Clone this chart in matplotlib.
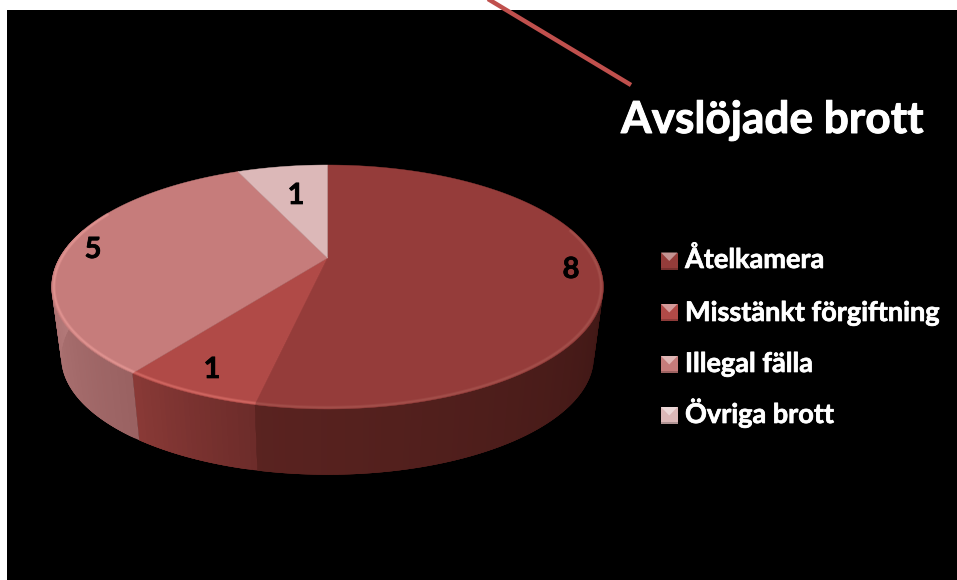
import numpy as np
import matplotlib
matplotlib.use("Agg")
import matplotlib.pyplot as plt
import matplotlib.patheffects as pe
from matplotlib.patches import Polygon, Rectangle
from matplotlib.colors import to_rgb

title = "Avslöjade brott"
categories = ["Åtelkamera", "Misstänkt förgiftning", "Illegal fälla", "Övriga brott"]
values = [8, 1, 5, 1]
top_colors = ["#953c3a", "#b04a47", "#c67c7b", "#dcb8b8"]
side_start = ["#3a1513", "#6d2c2a", "#9a6262", "#b08080"]
side_end = ["#5a2320", "#8a3a37", "#bb8080", "#c09090"]
rim_colors = ["#a85550", "#d96f69", "#e89a97", "#eed0d0"]
label_xy = [(571, 278), (212, 378), (93, 258), (296, 204)]
legend_mid = [261, 312.5, 364.5, 415.5]
legend_base = [268, 321, 372, 423]

CX, CY = 327.5, 258.0
SX, PY, Q = 268.0, 115.1, 0.2377
F, DY = 0.965, 71.0


def proj(t, bottom=False, r=1.0):
    a = np.radians(t)
    X, Y = r * np.sin(a), -r * np.cos(a)
    d = 1 - Q * Y
    x, y = SX * X / d, PY * Y / d
    if bottom:
        return CX + F * x, CY + F * y + DY
    return CX + x, CY + y


def bold_text(x, y, s, color, size, ha="left", stroke=0.5):
    ax.text(x, y, s, color=color, fontsize=size, fontweight="bold", family="Lato",
            ha=ha, va="baseline", zorder=6,
            path_effects=[pe.withStroke(linewidth=stroke, foreground=color)])


fig = plt.figure(figsize=(9.57, 5.80), dpi=100, facecolor="white")
ax = fig.add_axes([0, 0, 1, 1])
ax.set_xlim(0, 957)
ax.set_ylim(580, 0)
ax.axis("off")
ax.add_patch(Rectangle((7, 10), 950, 570, fc="black", ec="none", zorder=0))
ax.plot([488, 631], [-1, 85], color="#c0504d", lw=3.2, solid_capstyle="butt", zorder=1)

frac = np.cumsum([0] + values) / sum(values) * 360

# side wall: opaque overlapping strips, so that no seams appear
for i in range(len(values)):
    t0, t1 = frac[i], frac[i + 1]
    vis0, vis1 = max(t0, 85), min(t1, 285)
    if vis1 <= vis0:
        continue
    ts = np.arange(vis0, vis1, 1.0)
    c0, c1 = np.array(to_rgb(side_start[i])), np.array(to_rgb(side_end[i]))
    for a in ts:
        b = min(a + 3.0, vis1)
        u = (a - vis0) / max(vis1 - vis0, 1e-6)
        col = tuple(c0 + (c1 - c0) * u)
        arc = np.linspace(a, b, 5)
        xt, yt = proj(arc)
        xb, yb = proj(arc[::-1], True)
        ax.add_patch(Polygon(list(zip(xt, yt)) + list(zip(xb, yb)), closed=True,
                             fc=col, ec="none", zorder=2))

# top face
for i in range(len(values)):
    ts = np.linspace(frac[i], frac[i + 1], 200)
    xs, ys = proj(ts)
    pts = [(CX, CY)] + list(zip(xs, ys))
    ax.add_patch(Polygon(pts, closed=True, fc=top_colors[i], ec=top_colors[i], lw=0.3, zorder=3))

# soft bevel along the front of the rim
for i in range(len(values)):
    t0, t1 = max(frac[i], 75), min(frac[i + 1], 295)
    if t1 <= t0:
        continue
    ts = np.linspace(t0, t1, 200)
    xs, ys = proj(ts, r=0.992)
    ax.plot(xs, ys, color=rim_colors[i], lw=2.4, alpha=0.35, solid_capstyle="butt", zorder=4)
    ax.plot(xs, ys, color=rim_colors[i], lw=1.1, alpha=0.6, solid_capstyle="butt", zorder=4)

# data labels
for v, (x, y) in zip(values, label_xy):
    bold_text(x, y, str(v), "black", 21, ha="center")

# legend
for name, col, ym, yb in zip(categories, top_colors, legend_mid, legend_base):
    x0, x1, y0, y1 = 661, 677.5, ym - 8.5, ym + 8.5
    base = np.array(to_rgb(col))
    light = tuple(base + (1 - base) * 0.45)
    dark = tuple(base * 0.8)
    ax.add_patch(Rectangle((x0, y0), x1 - x0, y1 - y0, fc=col, ec="none", zorder=5))
    ax.add_patch(Polygon([(x0, y0), (x1, y0), ((x0 + x1) / 2, y0 + 8.5)], closed=True,
                         fc=light, ec="none", zorder=6))
    ax.add_patch(Rectangle((x0, y1 - 2), x1 - x0, 2, fc=dark, ec="none", zorder=6))
    bold_text(685, yb, name, "white", 19.5)

bold_text(621, 133, title, "white", 31.8, stroke=0.7)

fig.savefig("out.png", dpi=100, facecolor="white")
